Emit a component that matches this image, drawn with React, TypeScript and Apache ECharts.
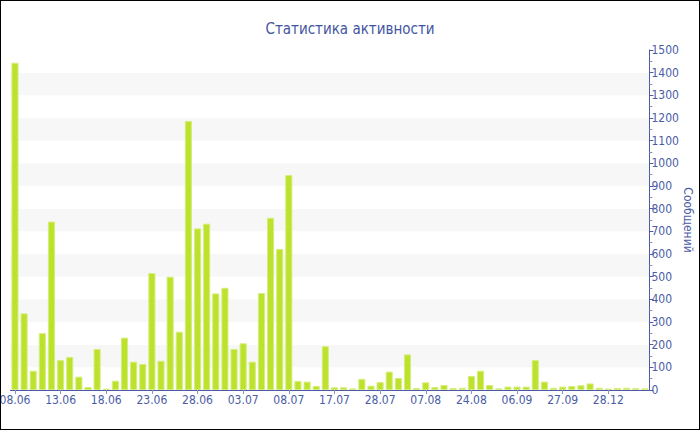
import React, { useEffect, useRef } from "react";
import * as echarts from "echarts";

const TITLE = "Статистика активности";
const Y_NAME = "Сообщений";

const categories: string[] = [
  "08.06", "09.06", "10.06", "11.06", "12.06", "13.06", "14.06", "15.06", "16.06", "17.06",
  "18.06", "19.06", "20.06", "21.06", "22.06", "23.06", "24.06", "25.06", "26.06", "27.06",
  "28.06", "29.06", "30.06", "01.07", "02.07", "03.07", "04.07", "05.07", "06.07", "07.07",
  "08.07", "09.07", "10.07", "12.07", "14.07", "17.07", "19.07", "21.07", "23.07", "25.07",
  "28.07", "29.07", "31.07", "02.08", "04.08", "07.08", "10.08", "13.08", "17.08", "20.08",
  "24.08", "26.08", "28.08", "30.08", "02.09", "06.09", "10.09", "14.09", "18.09", "22.09",
  "27.09", "05.10", "20.10", "08.11", "30.11", "28.12", "10.01", "25.01", "14.02", "03.03",
];

const messages: number[] = [
  1444, 338, 85, 251, 743, 132, 146, 59, 13, 181,
  6, 41, 231, 125, 115, 516, 129, 500, 257, 1187,
  713, 734, 426, 451, 181, 206, 125, 428, 760, 622,
  948, 40, 37, 18, 193, 12, 12, 7, 49, 19,
  35, 81, 53, 157, 9, 34, 13, 22, 9, 10,
  62, 85, 22, 7, 15, 15, 15, 132, 37, 10,
  15, 18, 21, 29, 10, 6, 9, 10, 8, 7,
];

const Y_MIN = 0;
const Y_MAX = 1500;
const Y_STEP = 100;

const AXIS_COLOR = "#4a5ca6";
const FONT = "'DejaVu Sans Condensed', 'Liberation Sans', sans-serif";

export default function App() {
  const ref = useRef<HTMLDivElement>(null);

  useEffect(() => {
    if (!ref.current) return;
    const chart = echarts.init(ref.current, undefined, { renderer: "svg" });
    chart.setOption({
      animation: false,
      backgroundColor: "#ffffff",
      title: {
        text: TITLE,
        left: "center",
        top: 15,
        textStyle: {
          color: "#4255a2",
          fontSize: 15,
          fontWeight: "normal",
          fontFamily: FONT,
        },
      },
      grid: {
        left: 9.4,
        right: 49.6,
        top: 49,
        bottom: 39,
        containLabel: false,
        outerBoundsMode: "none",
      },
      xAxis: {
        type: "category",
        data: categories,
        boundaryGap: true,
        axisLine: { show: true, lineStyle: { color: AXIS_COLOR, width: 1 } },
        axisTick: {
          show: true,
          alignWithLabel: true,
          interval: 4,
          length: 4,
          lineStyle: { color: "#8a94b8" },
        },
        axisLabel: {
          interval: 4,
          color: AXIS_COLOR,
          fontSize: 12,
          fontFamily: FONT,
          margin: 4,
        },
        splitLine: { show: false },
      },
      yAxis: {
        type: "value",
        position: "right",
        min: Y_MIN,
        max: Y_MAX,
        interval: Y_STEP,
        name: Y_NAME,
        nameLocation: "middle",
        nameGap: 39,
        nameRotate: -90,
        nameMoveOverlap: false,
        nameTextStyle: {
          color: AXIS_COLOR,
          fontSize: 12,
          fontFamily: FONT,
          align: "center",
          verticalAlign: "middle",
        },
        axisLine: { show: true, lineStyle: { color: AXIS_COLOR, width: 1 } },
        axisTick: { show: true, length: 4, lineStyle: { color: AXIS_COLOR } },
        minorTick: { show: true, splitNumber: 2, length: 3, lineStyle: { color: "#8a94b8" } },
        axisLabel: {
          color: AXIS_COLOR,
          fontSize: 12,
          fontFamily: FONT,
          margin: 2,
          formatter: (v: number) => String(v),
        },
        splitLine: { show: false },
        splitArea: {
          show: true,
          areaStyle: { color: ["#ffffff", "#f7f7f7"] },
        },
      },
      series: [
        {
          type: "bar",
          data: messages,
          barCategoryGap: "22%",
          itemStyle: {
            color: "#bde22e",
            borderColor: "#d6ed7c",
            borderWidth: 1,
          },
        },
      ],
    });
    return () => chart.dispose();
  }, []);

  return (
    <div
      style={{
        position: "absolute",
        left: 0,
        top: 0,
        width: 700,
        height: 430,
        border: "1px solid #000",
        boxSizing: "border-box",
        background: "#fff",
      }}
    >
      <div ref={ref} style={{ width: 698, height: 428 }} />
    </div>
  );
}
